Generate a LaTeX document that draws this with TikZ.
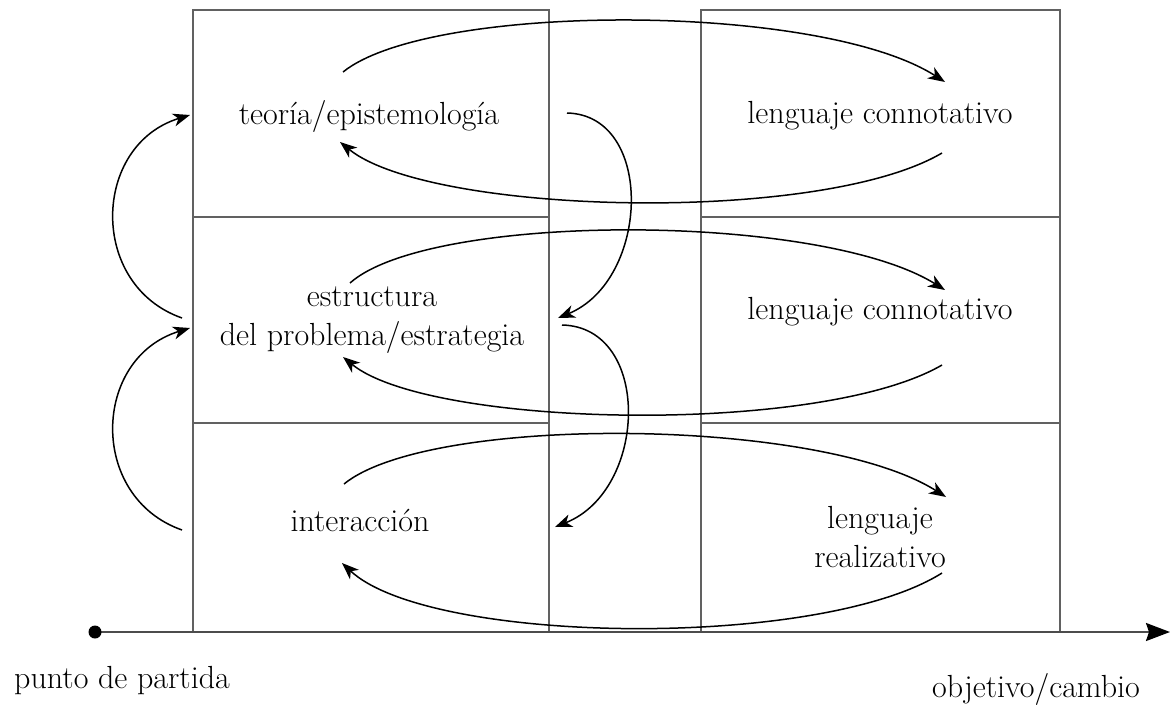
\documentclass[tikz,border=0pt]{standalone}
\usetikzlibrary{arrows.meta}
\begin{document}
\begin{tikzpicture}[x=1pt,y=-1pt,
  boxline/.style={line width=2pt,draw=black!62},
  loop/.style={line width=1.5pt,draw=black,-{Stealth[length=17pt,width=13pt,inset=5pt]}},
  lbl/.style={font=\fontsize{32}{39}\selectfont,align=center,inner sep=0pt},
  axis/.style={line width=2pt,draw=black!70,-{Stealth[length=24pt,width=18pt,inset=3pt,color=black,fill=black]}}]
\useasboundingbox (0,0) rectangle (1172,707);
% boxes
\draw[boxline] (193,10) rectangle (549,217);
\draw[boxline] (193,217) rectangle (549,423);
\draw[boxline] (193,423) rectangle (549,632);
\draw[boxline] (701,10) rectangle (1060,217);
\draw[boxline] (701,217) rectangle (1060,423);
\draw[boxline] (701,423) rectangle (1060,632);
% texts
\node[lbl] (t1) at (369,116) {teoría/epistemología};
\node[lbl] (r1) at (880,116) {lenguaje connotativo};
\node[lbl] (t2) at (372,320) {estructura\\del problema/estrategia};
\node[lbl] (r2) at (880,312) {lenguaje connotativo};
\node[lbl] (t3) at (360,520) {interacción};
\node[lbl] (r3) at (880,537) {lenguaje\\realizativo};
% axis
\coordinate (start) at (95,632);
\coordinate (goal) at (1170,632);
\draw[axis] (start) -- (goal);
\fill (start) circle (6.5);
\node[lbl,anchor=base] (ps) at (122,688) {punto de partida};
\node[lbl,anchor=base] (og) at (1036,697) {objetivo/cambio};
% loop coordinates
\coordinate (a1) at (343,72);  \coordinate (b1) at (945,82);
\coordinate (c1) at (942,153); \coordinate (d1) at (340,142);
\coordinate (a2) at (350,283); \coordinate (b2) at (945,290);
\coordinate (c2) at (942,365); \coordinate (d2) at (343,357);
\coordinate (a3) at (344,484); \coordinate (b3) at (946,497);
\coordinate (c3) at (942,573); \coordinate (d3) at (342,563);
\draw[loop] (a1) .. controls (430,2) and (820,2) .. (b1);
\draw[loop] (c1) .. controls (820,225) and (430,215) .. (d1);
\draw[loop] (a2) .. controls (430,212) and (820,212) .. (b2);
\draw[loop] (c2) .. controls (820,436) and (430,428) .. (d2);
\draw[loop] (a3) .. controls (430,414) and (820,417) .. (b3);
\draw[loop] (c3) .. controls (820,650) and (430,645) .. (d3);
% left arcs
\coordinate (l1s) at (182,318); \coordinate (l1e) at (190,115);
\coordinate (l2s) at (182,530); \coordinate (l2e) at (190,328);
\draw[loop] (l1s) .. controls (88,285) and (92,145) .. (l1e);
\draw[loop] (l2s) .. controls (88,497) and (92,358) .. (l2e);
% middle arcs
\coordinate (m1s) at (567,113); \coordinate (m1e) at (558,318);
\coordinate (m2s) at (562,325); \coordinate (m2e) at (555,527);
\draw[loop] (m1s) .. controls (655,115) and (650,280) .. (m1e);
\draw[loop] (m2s) .. controls (652,327) and (648,490) .. (m2e);
\end{tikzpicture}
\end{document}
